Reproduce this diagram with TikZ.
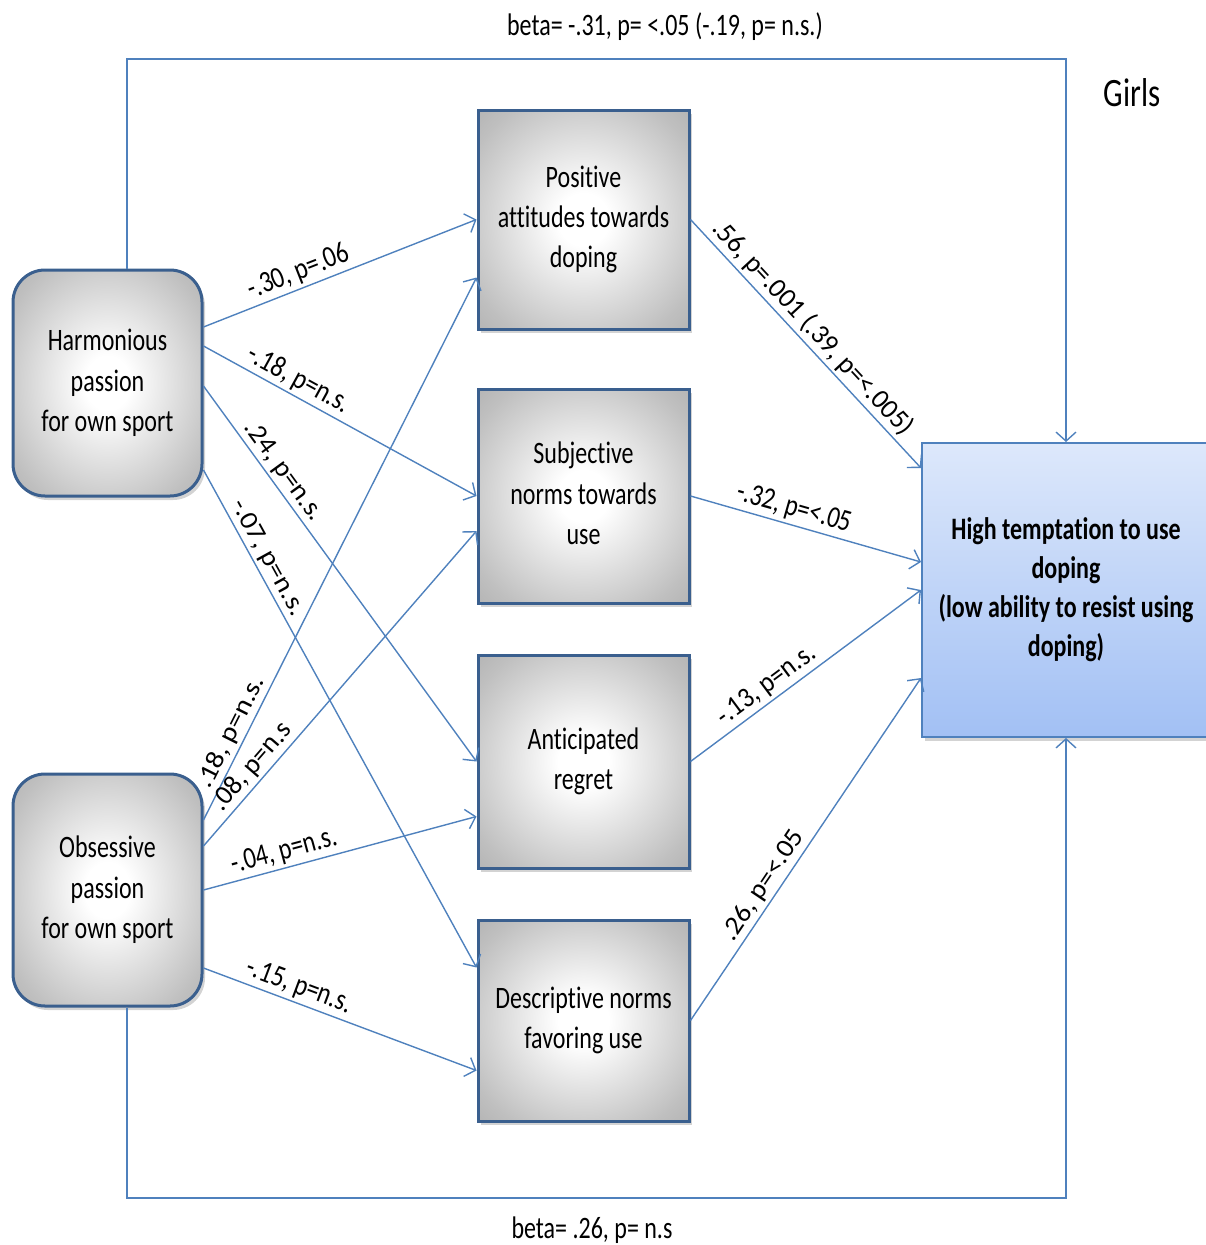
\documentclass[tikz,border=0pt]{standalone}
\usepackage{graphicx}
\usepackage{fontspec}
\setmainfont{Carlito}[Ligatures=NoCommon]
\usetikzlibrary{arrows.meta,shadows}

\definecolor{linkblue}{HTML}{4F81BD}
\definecolor{boxedge}{HTML}{3A5F8E}
\definecolor{toptint}{HTML}{DDE8FB}
\definecolor{bottint}{HTML}{A2C0F4}

% soft grey glow for the boxes
\pgfdeclareradialshading{boxglow}{\pgfpoint{0bp}{0bp}}{color(0bp)=(white); color(6bp)=(white); color(30bp)=(gray!50); color(50bp)=(gray!80)}

% text in the figure is drawn a bit taller than wide
\newcommand{\boxlines}[1]{\scalebox{1}[1.3]{\begin{tabular}{@{}c@{}}#1\end{tabular}}}
\newcommand{\stretchlab}[3]{\scalebox{#1}[#2]{#3}}

\tikzset{
  greybox/.style={draw=boxedge, line width=3pt, shading=boxglow, inner sep=0pt,
    font=\fontsize{24}{31}\selectfont,
    drop shadow={opacity=0.35, shadow xshift=3pt, shadow yshift=-4pt}},
  passion/.style={greybox, rounded corners=32pt, minimum width=189pt},
  mediator/.style={greybox, minimum width=211pt},
  outcome/.style={draw=linkblue, line width=2pt, top color=toptint, bottom color=bottint,
    inner sep=0pt, font=\bfseries\fontsize{24}{30}\selectfont, minimum width=288pt,
    minimum height=294pt,
    drop shadow={opacity=0.35, shadow xshift=3pt, shadow yshift=-4pt}},
  link/.style={draw=linkblue, line width=1.4pt, -{Straight Barb[length=9pt,width=20pt]}},
  lab/.style={sloped, above, inner sep=3pt, font=\fontsize{24}{26}\selectfont},
  note/.style={font=\fontsize{24}{28}\selectfont}
}

\begin{document}
\begin{tikzpicture}[x=1pt,y=-1pt]
  \useasboundingbox (0,0) rectangle (1205,1245);

  % predictors
  \node[passion, minimum height=226pt] (harm) at (107.5,383) {\boxlines{Harmonious\\passion\\for own sport}};
  \node[passion, minimum height=232pt] (obs) at (107.5,890) {\boxlines{Obsessive\\passion\\for own sport}};

  % mediators
  \node[mediator, minimum height=219pt] (att) at (583.5,219.5) {\boxlines{Positive\\attitudes towards\\doping}};
  \node[mediator, minimum height=214pt] (subj) at (583.5,496) {\boxlines{Subjective\\norms towards\\use}};
  \node[mediator, minimum height=213pt] (regr) at (583.5,761.5) {\boxlines{Anticipated\\regret}};
  \node[mediator, minimum height=201pt] (descr) at (583.5,1020.5) {\boxlines{Descriptive norms\\favoring use}};

  % outcome
  \node[outcome] (tempt) at (1066,590) {\boxlines{High temptation to use\\doping\\(low ability to resist using\\doping)}};

  \node[font=\fontsize{31}{34}\selectfont] (girls) at (1132,93) {\scalebox{1}[1.3]{Girls}};

  % direct paths round the outside
  \coordinate (topline) at (0,59);
  \coordinate (botline) at (0,1198);
  \draw[link] ([xshift=19.5pt]harm.north) |- (tempt.north |- topline) -- (tempt.north);
  \draw[link] ([xshift=19.5pt]obs.south) |- (tempt.south |- botline) -- (tempt.south);
  \node[note] (betatop) at (665,27) {\scalebox{1}[1.3]{beta= -.31, p= <.05 (-.19, p= n.s.)}};
  \node[note] (betabot) at (592,1230) {\scalebox{1}[1.3]{beta= .26, p= n.s}};

  % harmonious passion
  \draw[link] ([yshift=56pt]harm.east) -- (att.west) node[lab, pos=0.37] {\stretchlab{1.03}{1.26}{-.30, p=.06}};
  \draw[link] ([yshift=37pt]harm.east) -- (subj.west) node[lab, pos=0.32] {\stretchlab{1.05}{1.24}{-.18, p=n.s.}};
  \draw[link] ([yshift=-3pt]harm.east) -- (regr.west) node[lab, pos=0.25] {\stretchlab{1.17}{1.11}{.24, p=n.s.}};
  \draw[link] ([yshift=-87pt]harm.east) -- ([yshift=53pt]descr.west) node[lab, pos=0.19] {\stretchlab{1.2}{1.08}{-.07, p=n.s.}};

  % obsessive passion
  \draw[link] ([yshift=70pt]obs.east) -- ([yshift=-58pt]att.west) node[lab, pos=0.15] {\stretchlab{1.22}{1.07}{.18, p=n.s.}};
  \draw[link] ([yshift=44pt]obs.east) -- ([yshift=-35pt]subj.west) node[lab, pos=0.22] {\stretchlab{1.14}{1.14}{.08, p=n.s}};
  \draw[link] (obs.east) -- ([yshift=-55pt]regr.west) node[lab, pos=0.31] {\stretchlab{1.01}{1.28}{-.04, p=n.s.}};
  \draw[link] ([yshift=-78pt]obs.east) -- ([yshift=-50pt]descr.west) node[lab, pos=0.33] {\stretchlab{1.03}{1.27}{-.15, p=n.s.}};

  % mediators to outcome
  \draw[link] (att.east) -- ([yshift=122pt]tempt.west) node[lab, pos=0.48] {\stretchlab{1.13}{1.15}{.56, p=.001 (.39, p=<.005)}};
  \draw[link] (subj.east) -- ([yshift=28pt]tempt.west) node[lab, pos=0.43] {\stretchlab{1.02}{1.28}{-.32, p=<.05}};
  \draw[link] (regr.east) -- (tempt.west) node[lab, pos=0.37] {\stretchlab{1.08}{1.2}{-.13, p=n.s.}};
  \draw[link] (descr.east) -- ([yshift=-88pt]tempt.west) node[lab, pos=0.37] {\stretchlab{1.18}{1.1}{.26, p=<.05}};
\end{tikzpicture}
\end{document}
